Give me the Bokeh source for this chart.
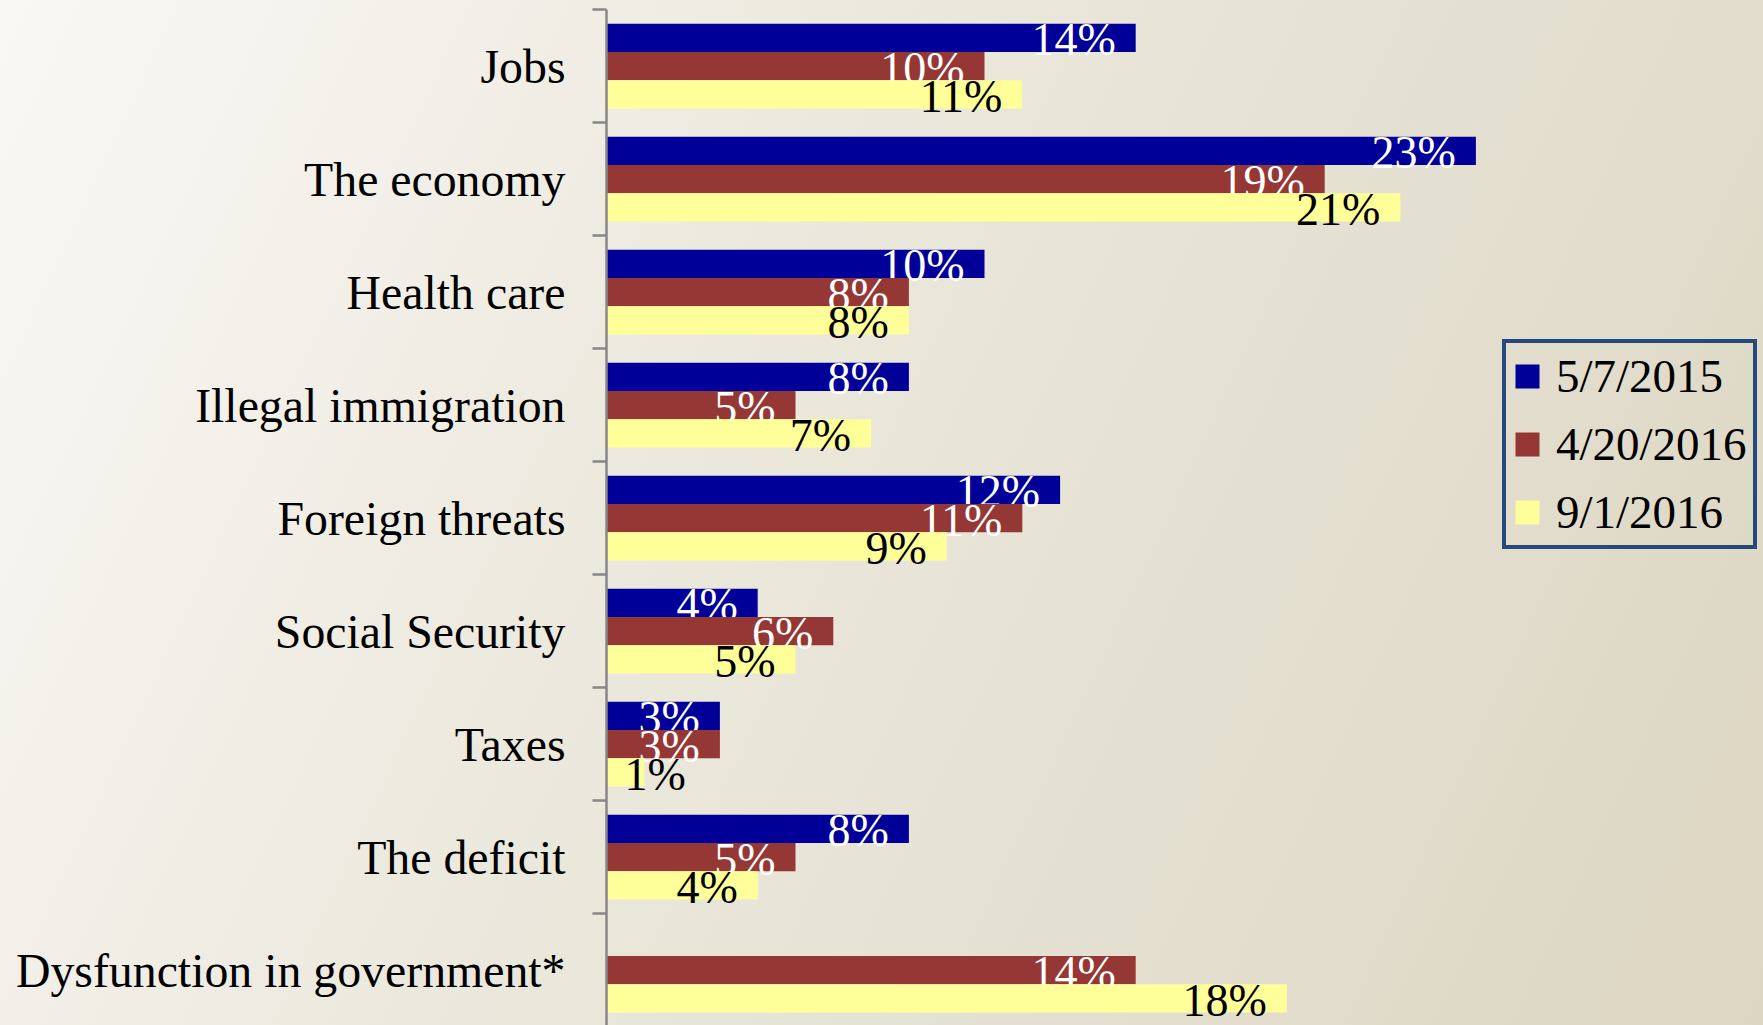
from bokeh.plotting import figure
from bokeh.models import (ColumnDataSource, Range1d, LinearAxis, FixedTicker,
                          Legend, LegendItem, GlobalInlineStyleSheet)
from bokeh.core.properties import value
from bokeh.embed import file_html
from bokeh.resources import INLINE

# ---------------- data ----------------
categories = ["Jobs", "The economy", "Health care", "Illegal immigration",
              "Foreign threats", "Social Security", "Taxes", "The deficit",
              "Dysfunction in government*"]
series_names = ["5/7/2015", "4/20/2016", "9/1/2016"]
values_may2015 = [14, 23, 10, 8, 12, 4, 3, 8, None]
values_apr2016 = [10, 19, 8, 5, 11, 6, 3, 5, 14]
values_sep2016 = [11, 21, 8, 7, 9, 5, 1, 4, 18]

# ---------------- style ----------------
colors = ["#000099", "#953735", "#FFFF99"]
label_colors = ["#FFFFFF", "#FFFFFF", "#000000"]
FONT = "Liberation Serif"
PX_PER_PCT = 37.8
PX_PER_CAT = 113.0
W, H = 1763, 1025
LEFT = 606
TOP = 9
LABEL_PX = 46
PAD = 20

n = len(categories)
x_end = (W - LEFT) / PX_PER_PCT
y_bottom = (H - TOP) / PX_PER_CAT

p = figure(width=W, height=H, output_backend="svg", toolbar_location=None,
           x_range=Range1d(0, x_end), y_range=Range1d(y_bottom, 0),
           x_axis_location=None, y_axis_location=None,
           min_border_left=LEFT, min_border_right=0, min_border_top=TOP,
           min_border_bottom=0, background_fill_alpha=0, border_fill_alpha=0,
           outline_line_color=None)
p.grid.visible = False

# category axis: labels at centres, ticks at category boundaries
centers = [i + 0.5 for i in range(n)]
bounds = [float(i) for i in range(n + 1)]
yaxis = LinearAxis(ticker=FixedTicker(ticks=centers, minor_ticks=bounds),
                   major_label_overrides={c: name for c, name in zip(centers, categories)},
                   major_tick_out=0, major_tick_in=0,
                   minor_tick_out=14, minor_tick_in=0,
                   minor_tick_line_color="#878787", minor_tick_line_width=2.5,
                   axis_line_color="#878787", axis_line_width=2.5,
                   major_label_standoff=27,
                   major_label_text_font=FONT,
                   major_label_text_font_size="47.8px",
                   major_label_text_color="#000000")
p.add_layout(yaxis, "left")

all_series = [values_may2015, values_apr2016, values_sep2016]
renderers = []
for k, vals in enumerate(all_series):
    ys, xs = [], []
    for i, v in enumerate(vals):
        if v is None:
            continue
        ys.append(i + 0.25 * (k + 1))
        xs.append(v)
    src = ColumnDataSource(dict(y=ys, right=xs))
    r = p.hbar(y="y", right="right", left=0, height=0.25, source=src,
               fill_color=colors[k], line_color=None)
    renderers.append(r)

    # data labels (inside end; anchored at the axis when the bar is too short)
    in_x, in_y, in_t = [], [], []
    sm_x, sm_y, sm_t = [], [], []
    for x, y in zip(xs, ys):
        t = f"{x}%"
        w_px = (0.5 * (len(t) - 1) + 0.833) * LABEL_PX
        if x * PX_PER_PCT - PAD - w_px < 18:
            sm_x.append(0); sm_y.append(y); sm_t.append(t)
        else:
            in_x.append(x); in_y.append(y); in_t.append(t)
    p.text(x=in_x, y=in_y, text=in_t, text_align="right", text_baseline="middle",
           x_offset=-PAD, y_offset=2, text_font=value(FONT),
           text_font_size=f"{LABEL_PX}px", text_color=label_colors[k])
    if sm_x:
        p.text(x=sm_x, y=sm_y, text=sm_t, text_align="left", text_baseline="middle",
               x_offset=18, y_offset=2, text_font=value(FONT),
               text_font_size=f"{LABEL_PX}px", text_color=label_colors[k])

legend = Legend(items=[LegendItem(label=nm, renderers=[r]) for nm, r in zip(series_names, renderers)],
                location=(896, 476), border_line_color="#24497A", border_line_width=4,
                border_line_alpha=1.0,
                background_fill_alpha=0, label_text_font=FONT,
                label_text_font_size="47px", label_text_color="#000000",
                glyph_width=30, glyph_height=30,
                padding=6, spacing=14, label_standoff=14, margin=0)
p.add_layout(legend)

p.stylesheets = [GlobalInlineStyleSheet(css=(
    "html{height:100%;background:linear-gradient(115deg,#f9f8f4 0%,#ebe8dd 40%,#dcd6c2 100%) no-repeat;}"
    "body{background:transparent;}"))]

open("out.html", "w").write(file_html(p, INLINE))
